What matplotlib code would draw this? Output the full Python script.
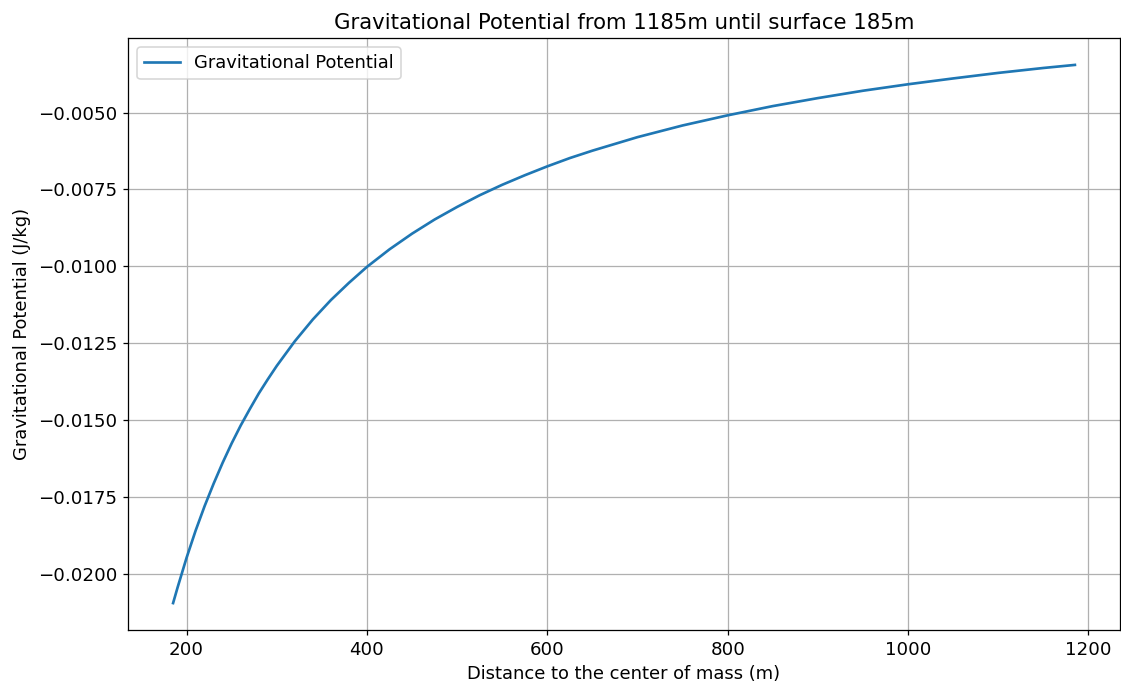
import matplotlib
matplotlib.use('Agg')
import matplotlib.pyplot as plt

# distances (m) and potential (J/kg)
distance = [185, 190, 200, 210, 220, 230, 240, 250, 260, 270, 280, 290, 300,
            320, 340, 360, 380, 400, 425, 450, 475, 500, 525, 550, 575, 600,
            625, 650, 700, 750, 800, 850, 900, 950, 1000, 1050, 1100, 1150,
            1185]
potential = [-0.02096, -0.02045, -0.01948, -0.01860, -0.01780, -0.01707,
             -0.01639, -0.01576, -0.01518, -0.01465, -0.01414, -0.01368,
             -0.01324, -0.01244, -0.01173, -0.01110, -0.01054, -0.01002,
             -0.00945, -0.00894, -0.00848, -0.00807, -0.00769, -0.00735,
             -0.00704, -0.00675, -0.00648, -0.00624, -0.00580, -0.00542,
             -0.00509, -0.00479, -0.00453, -0.00429, -0.00408, -0.00389,
             -0.00371, -0.00355, -0.00345]

plt.rcParams['font.size'] = 11.4
dpi = 113
fig = plt.figure(figsize=(1121 / dpi, 689 / dpi), dpi=dpi)
plt.subplots_adjust(left=128 / 1121, right=1120 / 1121, top=1 - 38 / 689, bottom=1 - 630 / 689)
plt.plot(distance, potential, label='Gravitational Potential', linewidth=1.7)
plt.title('Gravitational Potential from 1185m until surface 185m', size=13.5)
plt.xlabel('Distance to the center of mass (m)')
plt.ylabel('Gravitational Potential (J/kg)')
plt.tick_params(labelsize=11.6)
plt.grid(True)
plt.legend(loc='upper left')
plt.savefig('out.png')
